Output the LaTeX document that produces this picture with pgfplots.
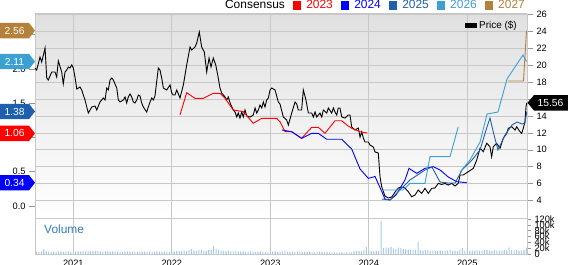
\documentclass[border=0pt]{standalone}
\usepackage{pgfplots}
\pgfplotsset{compat=1.18}
\usepackage{fontspec}
\setmainfont{Liberation Sans}
\definecolor{c23}{RGB}{255,0,0}
\definecolor{c24}{RGB}{0,0,255}
\definecolor{c25}{RGB}{30,95,175}
\definecolor{c26}{RGB}{60,160,210}
\definecolor{c27}{RGB}{181,128,58}
\definecolor{gridc}{RGB}{200,200,200}
\definecolor{tickc}{RGB}{150,150,150}
\definecolor{bgtop}{RGB}{224,224,224}
\definecolor{volc}{RGB}{168,202,232}
\definecolor{vlab}{RGB}{50,125,195}
\newcommand\tickfont{\fontsize{9.3}{10}\selectfont}
\newcommand\tagfont{\fontsize{10.3}{11}\selectfont}
\pgfplotsset{/pgf/number format/assume math mode=true}
\begin{document}
\begin{tikzpicture}[x=1bp,y=1bp]
\useasboundingbox (0,0) rectangle (568,264);
% ---------------- price axis (right) ----------------
\begin{axis}[
  at={(35bp,46bp)}, anchor=south west, scale only axis,
  width=492bp, height=204bp,
  xmin=2020.611, xmax=2025.606, ymin=1.93, ymax=26.07,
  axis background/.style={top color=bgtop, bottom color=white},
  xtick={2021,2022,2023,2024,2025}, xticklabels={},
  xtick style={draw=none},
  ytick={4,6,...,26}, ytick pos=right,
  tick align=outside, major tick length=6bp,
  ytick style={draw=tickc, line width=0.6bp},
  tick label style={font=\tickfont},
  grid=major, major grid style={gridc, line width=0.8bp},
  axis line style={gridc, line width=0.8bp},
  clip=false,
  legend style={at={(1,1)}, anchor=north east, xshift=-8bp, yshift=-5bp,
    draw=none, fill=none, font=\fontsize{10}{11}\selectfont, inner sep=0pt},
  legend image code/.code={\fill (0bp,-2.2bp) rectangle (11bp,2.2bp);},
]
\addplot[black, line width=0.9bp] coordinates {
(2020.611,19.68)(2020.628,19.44)(2020.662,20.98)(2020.679,20.39)(2020.713,22.05)(2020.730,18.50)
(2020.746,18.26)(2020.781,19.21)(2020.814,19.21)(2020.831,18.61)(2020.848,20.51)(2020.882,19.21)
(2020.898,17.79)(2020.916,19.21)(2020.933,19.44)(2020.949,19.80)(2020.966,19.68)(2020.984,20.04)
(2021.000,19.68)(2021.017,18.61)(2021.035,17.19)(2021.068,17.43)(2021.085,17.08)(2021.102,16.48)
(2021.119,15.89)(2021.152,14.35)(2021.170,14.71)(2021.187,15.06)(2021.220,15.18)(2021.238,14.71)
(2021.254,15.18)(2021.271,15.66)(2021.305,16.13)(2021.322,15.89)(2021.339,17.31)(2021.355,17.08)
(2021.373,18.26)(2021.390,18.50)(2021.406,18.26)(2021.423,17.79)(2021.441,17.31)(2021.457,15.89)
(2021.474,15.66)(2021.508,15.89)(2021.525,16.25)(2021.542,15.54)(2021.558,16.25)(2021.576,16.60)
(2021.593,16.25)(2021.609,15.66)(2021.626,15.54)(2021.644,15.89)(2021.660,16.48)(2021.677,16.37)
(2021.694,15.54)(2021.711,15.06)(2021.745,14.47)(2021.761,15.06)(2021.779,15.66)(2021.796,16.13)
(2021.812,15.89)(2021.829,16.37)(2021.863,19.68)(2021.880,19.44)(2021.897,18.50)(2021.914,17.31)
(2021.948,17.08)(2021.982,17.67)(2021.999,16.72)(2022.015,16.48)(2022.032,16.48)(2022.050,17.08)
(2022.083,16.13)(2022.117,17.67)(2022.151,20.04)(2022.185,22.16)(2022.202,21.81)(2022.235,22.16)
(2022.253,22.64)(2022.279,23.94)(2022.303,22.16)(2022.330,21.57)(2022.354,19.21)(2022.378,20.86)
(2022.398,19.80)(2022.421,20.86)(2022.446,20.04)(2022.466,18.85)(2022.489,17.31)(2022.506,16.72)
(2022.540,16.25)(2022.557,15.89)(2022.574,16.25)(2022.591,15.54)(2022.624,14.71)(2022.642,14.47)
(2022.659,13.88)(2022.675,14.35)(2022.692,13.76)(2022.710,14.47)(2022.726,13.88)(2022.743,14.71)
(2022.760,14.00)(2022.794,13.88)(2022.827,14.12)(2022.845,14.95)(2022.862,14.35)(2022.878,14.71)
(2022.895,15.30)(2022.913,14.95)(2022.929,15.66)(2022.946,15.06)(2022.963,15.89)(2022.980,16.13)
(2022.997,17.08)(2023.014,17.31)(2023.048,17.08)(2023.081,15.66)(2023.098,15.42)(2023.132,13.88)
(2023.166,13.53)(2023.183,12.93)(2023.217,14.35)(2023.251,15.66)(2023.268,15.42)(2023.284,14.71)
(2023.318,14.71)(2023.335,17.08)(2023.362,15.89)(2023.386,14.35)(2023.420,14.35)(2023.437,13.88)
(2023.454,14.47)(2023.471,13.88)(2023.504,14.35)(2023.522,13.88)(2023.538,14.71)(2023.573,14.35)
(2023.589,14.95)(2023.623,14.35)(2023.640,14.95)(2023.657,14.47)(2023.674,14.12)(2023.690,14.95)
(2023.707,14.95)(2023.725,13.88)(2023.758,13.76)(2023.792,14.12)(2023.809,14.12)(2023.826,12.70)
(2023.860,12.34)(2023.893,12.58)(2023.911,11.51)(2023.928,12.11)(2023.944,11.40)(2023.961,10.92)
(2023.995,10.92)(2024.012,10.57)(2024.046,10.33)(2024.063,9.74)(2024.096,9.62)(2024.114,6.78)
(2024.131,5.60)(2024.164,4.53)(2024.198,4.30)(2024.232,4.41)(2024.266,5.00)(2024.299,5.48)
(2024.334,5.60)(2024.367,5.48)(2024.401,5.04)(2024.435,4.45)(2024.469,4.65)(2024.502,5.24)
(2024.537,4.85)(2024.570,5.44)(2024.604,4.85)(2024.638,5.44)(2024.672,5.48)(2024.705,6.03)
(2024.740,5.89)(2024.773,6.03)(2024.807,5.83)(2024.841,6.03)(2024.875,5.72)(2024.908,6.03)
(2024.926,7.02)(2024.959,7.02)(2025.010,7.41)(2025.061,7.81)(2025.095,8.79)(2025.129,10.18)
(2025.162,9.78)(2025.197,10.77)(2025.230,10.37)(2025.247,9.18)(2025.264,10.37)(2025.298,10.77)
(2025.332,10.18)(2025.365,11.36)(2025.400,11.95)(2025.416,12.54)(2025.450,12.73)(2025.484,12.34)
(2025.501,12.73)(2025.535,12.14)(2025.552,11.95)(2025.568,12.54)(2025.585,13.33)(2025.596,15.10)
(2025.603,15.56)};
\addlegendentry{Price (\$)}
\draw[gridc, line width=2.4bp] (rel axis cs:0,1) -- (rel axis cs:1,1);
\coordinate (ptag) at (axis cs:2025.606,15.56);
\end{axis}
% ---------------- EPS consensus axis (left) ----------------
\begin{axis}[
  at={(35bp,46bp)}, anchor=south west, scale only axis,
  width=492bp, height=204bp,
  xmin=2020.611, xmax=2025.606, ymin=-0.175, ymax=2.803,
  axis line style={draw=none},
  xtick=\empty,
  ytick={0,0.5,...,2.5}, ytick pos=left,
  tick align=outside, major tick length=6bp,
  ytick style={draw=tickc, line width=0.6bp},
  tick label style={font=\tickfont},
  yticklabel style={/pgf/number format/.cd, fixed, fixed zerofill, precision=1, assume math mode=true},
  legend columns=-1,
  legend style={at={(1,1)}, anchor=south east, yshift=1.5bp, xshift=0bp,
    draw=none, fill=none, font=\fontsize{12}{12}\selectfont, inner sep=0pt,
    /tikz/every odd column/.append style={column sep=3bp},
    /tikz/every even column/.append style={column sep=6bp}},
  legend image code/.code={\fill (0bp,-3.7bp) rectangle (7.5bp,3.7bp);},
]
\addlegendimage{empty legend}\addlegendentry{Consensus\hspace{1.5bp}}
\addplot[c23, line width=0.9bp] coordinates {
(2022.083,1.330)(2022.151,1.654)(2022.235,1.572)(2022.320,1.572)(2022.421,1.645)(2022.489,1.645)
(2022.540,1.572)(2022.624,1.401)(2022.726,1.377)(2022.827,1.207)(2022.913,1.280)(2023.065,1.280)
(2023.098,1.231)(2023.149,1.085)(2023.217,1.085)(2023.318,0.988)(2023.420,1.149)(2023.487,1.149)
(2023.555,1.061)(2023.657,1.245)(2023.725,1.245)(2023.776,1.183)(2023.826,1.134)(2023.911,1.085)
(2023.985,1.065)};
\addlegendentry{\textcolor{c23}{2023}}
\addplot[c24, line width=0.9bp] coordinates {
(2023.117,1.110)(2023.217,1.085)(2023.318,0.988)(2023.420,1.061)(2023.487,1.061)(2023.573,0.974)
(2023.725,0.974)(2023.826,0.832)(2023.911,0.540)(2023.995,0.404)(2024.063,0.431)(2024.134,0.204)
(2024.164,0.102)(2024.215,0.088)(2024.276,0.161)(2024.317,0.258)(2024.367,0.380)(2024.408,0.550)
(2024.486,0.477)(2024.570,0.550)(2024.655,0.574)(2024.723,0.526)(2024.807,0.423)(2024.892,0.355)
(2024.994,0.340)};
\addlegendentry{\textcolor{c24}{2024}}
\addplot[c25, line width=0.9bp] coordinates {
(2024.134,0.102)(2024.215,0.088)(2024.296,0.204)(2024.418,0.380)(2024.570,0.526)(2024.641,0.569)
(2024.723,0.350)(2024.804,0.336)(2024.875,0.336)(2024.946,0.526)(2025.048,0.672)(2025.129,0.818)
(2025.190,1.110)(2025.230,1.285)(2025.271,1.037)(2025.311,0.818)(2025.383,1.037)(2025.454,1.183)
(2025.505,1.226)(2025.555,1.197)(2025.585,1.212)(2025.604,1.380)};
\addlegendentry{\textcolor{c25}{2025}}
\addplot[c26, line width=0.9bp] coordinates {
(2024.131,0.234)(2024.347,0.234)(2024.418,0.331)(2024.570,0.331)(2024.621,0.720)(2024.824,0.720)
(2024.908,1.158)};
\addlegendentry{\textcolor{c26}{2026}}
\addplot[c27, line width=0.9bp] coordinates {
(2025.413,1.825)(2025.570,1.825)(2025.601,2.560)};
\addlegendentry{\textcolor{c27}{2027}}
\addplot[c26, line width=0.9bp, forget plot] coordinates {
(2024.926,0.496)(2025.027,0.672)(2025.129,0.934)(2025.200,1.343)(2025.311,1.372)(2025.403,1.854)
(2025.565,2.204)(2025.601,2.110)};
\coordinate (t23) at (axis cs:2020.611,1.06);
\coordinate (t24) at (axis cs:2020.611,0.34);
\coordinate (t25) at (axis cs:2020.611,1.38);
\coordinate (t26) at (axis cs:2020.611,2.11);
\coordinate (t27) at (axis cs:2020.611,2.56);
\end{axis}
% ---------------- volume axis ----------------
\begin{axis}[
  at={(35bp,10bp)}, anchor=south west, scale only axis,
  width=492bp, height=36bp,
  xmin=2020.611, xmax=2025.606, ymin=0, ymax=124,
  xtick={2021,2022,2023,2024,2025}, xticklabels={2021,2022,2023,2024,2025},
  ytick={0,20,...,120}, yticklabels={0,20k,40k,60k,80k,100k,120k},
  ytick pos=right, xtick pos=bottom,
  tick align=outside, major tick length=4bp,
  ytick style={draw=tickc, line width=0.6bp}, xtick style={draw=none},
  tick label style={font=\tickfont},
  xticklabel style={inner sep=0pt, text depth=0pt, yshift=-1.5bp},
  xmajorgrids, major grid style={gridc, line width=0.8bp},
  axis line style={gridc, line width=0.8bp},
]
\addplot[ybar, bar width=1.1bp, fill=volc, draw=none] coordinates {
(2020.625,8)(2020.650,7)(2020.675,9)(2020.700,16)(2020.725,9)(2020.750,8)(2020.775,7)(2020.800,8)
(2020.825,7)(2020.850,9)(2020.875,8)(2020.900,7)(2020.925,9)(2020.950,10)(2020.975,8)
(2021.000,7)(2021.025,8)(2021.050,9)(2021.075,8)(2021.100,10)(2021.125,9)(2021.150,11)(2021.175,10)
(2021.200,9)(2021.225,10)(2021.250,11)(2021.275,9)(2021.300,8)(2021.325,10)(2021.350,9)(2021.375,8)
(2021.400,9)(2021.425,8)(2021.450,9)(2021.475,8)(2021.500,7)(2021.525,8)(2021.550,9)(2021.575,8)
(2021.600,7)(2021.625,8)(2021.650,7)(2021.675,8)(2021.700,7)(2021.725,8)(2021.750,7)(2021.775,8)
(2021.800,7)(2021.825,8)(2021.850,9)(2021.875,8)(2021.900,7)(2021.925,9)(2021.950,8)(2021.975,7)
(2022.000,9)(2022.025,8)(2022.050,10)(2022.075,9)(2022.100,11)(2022.125,12)(2022.150,10)(2022.175,14)
(2022.200,17)(2022.225,12)(2022.250,11)(2022.275,13)(2022.300,15)(2022.325,12)(2022.350,11)(2022.375,14)
(2022.400,13)(2022.425,27)(2022.450,18)(2022.475,15)(2022.500,12)(2022.525,10)(2022.550,9)(2022.575,11)
(2022.600,9)(2022.625,8)(2022.650,10)(2022.675,9)(2022.700,8)(2022.725,9)(2022.750,8)(2022.775,7)
(2022.800,9)(2022.825,8)(2022.850,7)(2022.875,8)(2022.900,9)(2022.925,8)(2022.950,7)(2022.975,8)
(2023.000,7)(2023.025,8)(2023.050,9)(2023.075,7)(2023.100,8)(2023.125,9)(2023.150,11)(2023.175,8)
(2023.200,7)(2023.225,8)(2023.250,7)(2023.275,9)(2023.300,8)(2023.325,7)(2023.350,8)(2023.375,7)
(2023.400,8)(2023.425,7)(2023.450,6)(2023.475,7)(2023.500,8)(2023.525,7)(2023.550,6)(2023.575,7)
(2023.600,6)(2023.625,5)(2023.650,6)(2023.675,5)(2023.700,5)(2023.725,6)(2023.750,5)(2023.775,6)
(2023.800,7)(2023.825,6)(2023.850,9)(2023.875,10)(2023.900,11)(2023.925,10)(2023.950,13)(2023.975,24)
(2024.000,12)(2024.025,10)(2024.050,9)(2024.075,11)(2024.100,10)(2024.125,113)(2024.150,20)(2024.175,22)
(2024.200,21)(2024.225,24)(2024.250,19)(2024.275,18)(2024.300,22)(2024.325,20)(2024.350,17)(2024.375,16)
(2024.400,15)(2024.425,16)(2024.450,14)(2024.475,15)(2024.500,41)(2024.525,13)(2024.550,12)(2024.575,14)
(2024.600,13)(2024.625,11)(2024.650,12)(2024.675,10)(2024.700,11)(2024.725,12)(2024.750,10)(2024.775,11)
(2024.800,12)(2024.825,13)(2024.850,11)(2024.875,12)(2024.900,10)(2024.925,15)(2024.950,21)(2024.975,12)
(2025.000,11)(2025.025,10)(2025.050,12)(2025.075,11)(2025.100,13)(2025.125,12)(2025.150,11)(2025.175,14)
(2025.200,13)(2025.225,12)(2025.250,11)(2025.275,13)(2025.300,12)(2025.325,11)(2025.350,12)(2025.375,13)
(2025.400,12)(2025.425,23)(2025.450,14)(2025.475,12)(2025.500,13)(2025.525,11)(2025.550,12)(2025.575,13)
(2025.600,22)};
\node[anchor=west, inner sep=0pt, text=vlab, font=\fontsize{12}{12}\selectfont]
  at (rel axis cs:0,0.69) [xshift=9bp] {Volume};
\end{axis}
% ---------------- value tags ----------------
\newcommand\lefttag[3]{%
  \fill[#1] (#2) ++(-35bp,-7.7bp) -- ++(29bp,0) -- ++(6bp,7.7bp) -- ++(-6bp,7.7bp) -- ++(-29bp,0) -- cycle;
  \node[white, font=\tagfont, inner sep=0pt] at ([xshift=-20.5bp]#2) {#3};}
\lefttag{c27}{t27}{2.56}
\lefttag{c26}{t26}{2.11}
\lefttag{c25}{t25}{1.38}
\lefttag{c23}{t23}{1.06}
\lefttag{c24}{t24}{0.34}
\fill[black] (ptag) ++(0.5bp,0) -- ++(6.5bp,7.8bp) -- ++(34bp,0) -- ++(0,-15.6bp) -- ++(-34bp,0) -- cycle;
\node[white, font=\tagfont, inner sep=0pt] at ([xshift=23.5bp]ptag) {15.56};
\end{tikzpicture}
\end{document}
